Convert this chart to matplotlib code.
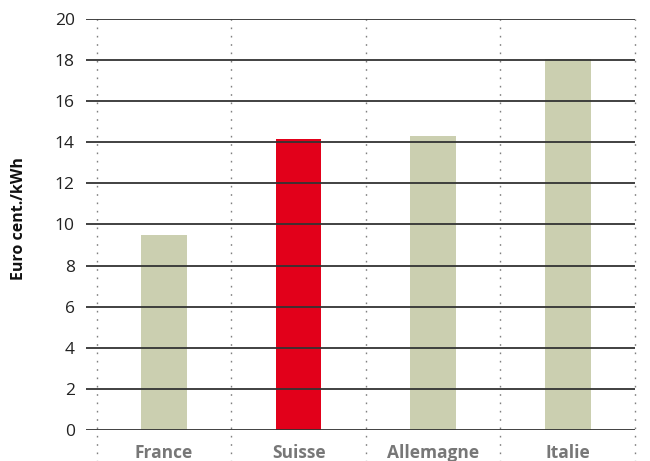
import matplotlib
matplotlib.use("Agg")
import matplotlib.pyplot as plt

categories = ["France", "Suisse", "Allemagne", "Italie"]
values = [9.5, 14.15, 14.3, 18.05]
bar_colors = ["#CBCFB0", "#E2001A", "#CBCFB0", "#CBCFB0"]
yticks = [0, 2, 4, 6, 8, 10, 12, 14, 16, 18, 20]
ylabel = "Euro cent./kWh"

plt.rcParams['font.family'] = ['Open Sans', 'DejaVu Sans']

fig = plt.figure(figsize=(6.5, 4.61), dpi=100)
W, H = 650, 461
ax = fig.add_axes([86 / W, (H - 430) / H, (635 - 86) / W, (430 - 19) / H])

x = list(range(len(categories)))
ax.bar(x, values, width=0.34, color=bar_colors, zorder=1)

for t in yticks:
    ax.axhline(t, color="#333333", lw=1.3, zorder=3)

ax.vlines([i - 0.5 for i in range(len(categories) + 1)], -1.55, 20,
          colors="#808080", linestyles=(0, (1.2, 4.8)), lw=1.0, clip_on=False, zorder=2)

ax.set_xlim(-0.58, 3.5)
ax.set_ylim(0, 20)
ax.set_yticks(yticks)
ax.set_yticklabels([str(t) for t in yticks], fontsize=12.5, color="#222222")
ax.set_xticks(x)
ax.set_xticklabels(categories, fontsize=12.5, fontweight="bold", color="#777777")
ax.tick_params(axis="both", length=0)
ax.tick_params(axis="y", pad=8)
ax.tick_params(axis="x", pad=10)
for s in ax.spines.values():
    s.set_visible(False)

fig.text(19 / W, 1 - 219 / H, ylabel, rotation=90, fontsize=11.5, fontweight="bold",
         color="#111111", ha="center", va="center")

fig.savefig("out.png", dpi=100)
